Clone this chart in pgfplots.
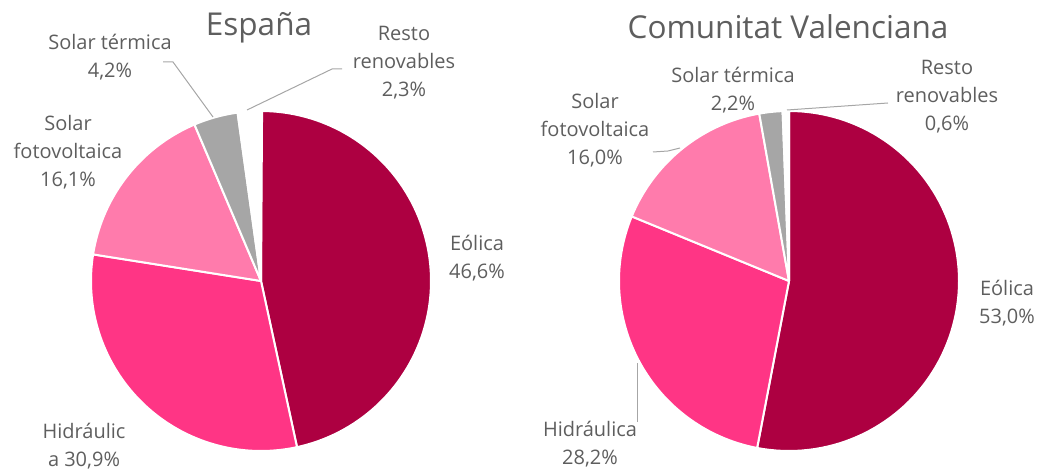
\documentclass[border=0pt]{standalone}
\usepackage{pgfplots}
\usepackage{pgfplotstable}
\pgfplotsset{compat=1.18}
\usepackage{fontspec}
\setmainfont{Open Sans}
\definecolor{eolica}{HTML}{AD0041}
\definecolor{hidra}{HTML}{FF3585}
\definecolor{fv}{HTML}{FF7BAC}
\definecolor{termica}{HTML}{A6A6A6}
\definecolor{resto}{HTML}{FFFFFF}
\definecolor{txt}{HTML}{5E5E5E}
\definecolor{lead}{HTML}{A6A6A6}

\pgfplotstableread{
value color
46.6 eolica
30.9 hidra
16.1 fv
4.2 termica
2.3 resto
}\espana
\pgfplotstableread{
value color
53.0 eolica
28.2 hidra
16.0 fv
2.2 termica
0.6 resto
}\cv

\newcommand\drawpie[4]{%
 \pgfplotstablegetrowsof{#1}%
 \pgfmathtruncatemacro\lastrow{\pgfplotsretval-1}%
 \def\cum{0}%
 \pgfplotsforeachungrouped \i in {0,...,\lastrow}{%
   \pgfplotstablegetelem{\i}{value}\of{#1}\let\myval\pgfplotsretval
   \pgfplotstablegetelem{\i}{color}\of{#1}\let\mycol\pgfplotsretval
   \pgfmathsetmacro\aend{90-3.6*\cum}%
   \pgfmathsetmacro\cum{\cum+\myval}%
   \pgfmathsetmacro\astart{90-3.6*\cum}%
   \edef\temp{\noexpand\addplot[fill=\mycol, draw=white, line width=2pt, line join=round, no markers, domain=\astart:\aend, samples=90, variable=\noexpand\t] ({#2+#4*cos(\noexpand\t)},{#3+#4*sin(\noexpand\t)}) -- (axis cs:#2,#3) -- cycle;}%
   \temp
 }%
}
\newcommand\lfont{\fontsize{20}{28}\selectfont}
\newcommand\tfont{\fontsize{31.5}{36}\selectfont}

\begin{document}
\begin{tikzpicture}
\begin{axis}[at={(0,0)}, anchor=origin, scale only axis, width=1039pt, height=471pt,
  xmin=0, xmax=1039, ymin=0, ymax=471, hide axis, clip=false]
\drawpie{\espana}{261}{190}{170}
\drawpie{\cv}{789}{190}{170}
% leader lines
\draw[lead, line width=1pt] (axis cs:163,409) -- (axis cs:173,409) -- (axis cs:213,354);
\draw[lead, line width=1pt] (axis cs:342,402) -- (axis cs:332,402) -- (axis cs:247,361);
\draw[lead, line width=1pt] (axis cs:888,368) -- (axis cs:787,361);
\draw[lead, line width=1pt] (axis cs:653,319) -- (axis cs:668,320) -- (axis cs:680,323);
\draw[lead, line width=1pt] (axis cs:637,49) -- (axis cs:637,108);
% titles
\node[text=txt, font=\tfont] at (axis cs:259,443) {España};
\node[text=txt, font=\tfont] at (axis cs:788,444) {Comunitat Valenciana};
% labels left
\node[align=center, text=txt, font=\lfont] at (axis cs:110,414) {Solar térmica\\4,2\%};
\node[align=center, text=txt, font=\lfont] at (axis cs:404,408) {Resto\\renovables\\2,3\%};
\node[align=center, text=txt, font=\lfont] at (axis cs:68,319) {Solar\\fotovoltaica\\16,1\%};
\node[align=center, text=txt, font=\lfont] at (axis cs:477,213) {Eólica\\46,6\%};
\node[align=center, text=txt, font=\lfont] at (axis cs:84,25) {Hidráulic\\a 30,9\%};
% labels right
\node[align=center, text=txt, font=\lfont] at (axis cs:733,381) {Solar térmica\\2,2\%};
\node[align=center, text=txt, font=\lfont] at (axis cs:947,374) {Resto\\renovables\\0,6\%};
\node[align=center, text=txt, font=\lfont] at (axis cs:595,341) {Solar\\fotovoltaica\\16,0\%};
\node[align=center, text=txt, font=\lfont] at (axis cs:1007,168) {Eólica\\53,0\%};
\node[align=center, text=txt, font=\lfont] at (axis cs:590,27) {Hidráulica\\28,2\%};
\end{axis}
\pgfresetboundingbox
\path (0,0) rectangle (1039pt,471pt);
\end{tikzpicture}
\end{document}
